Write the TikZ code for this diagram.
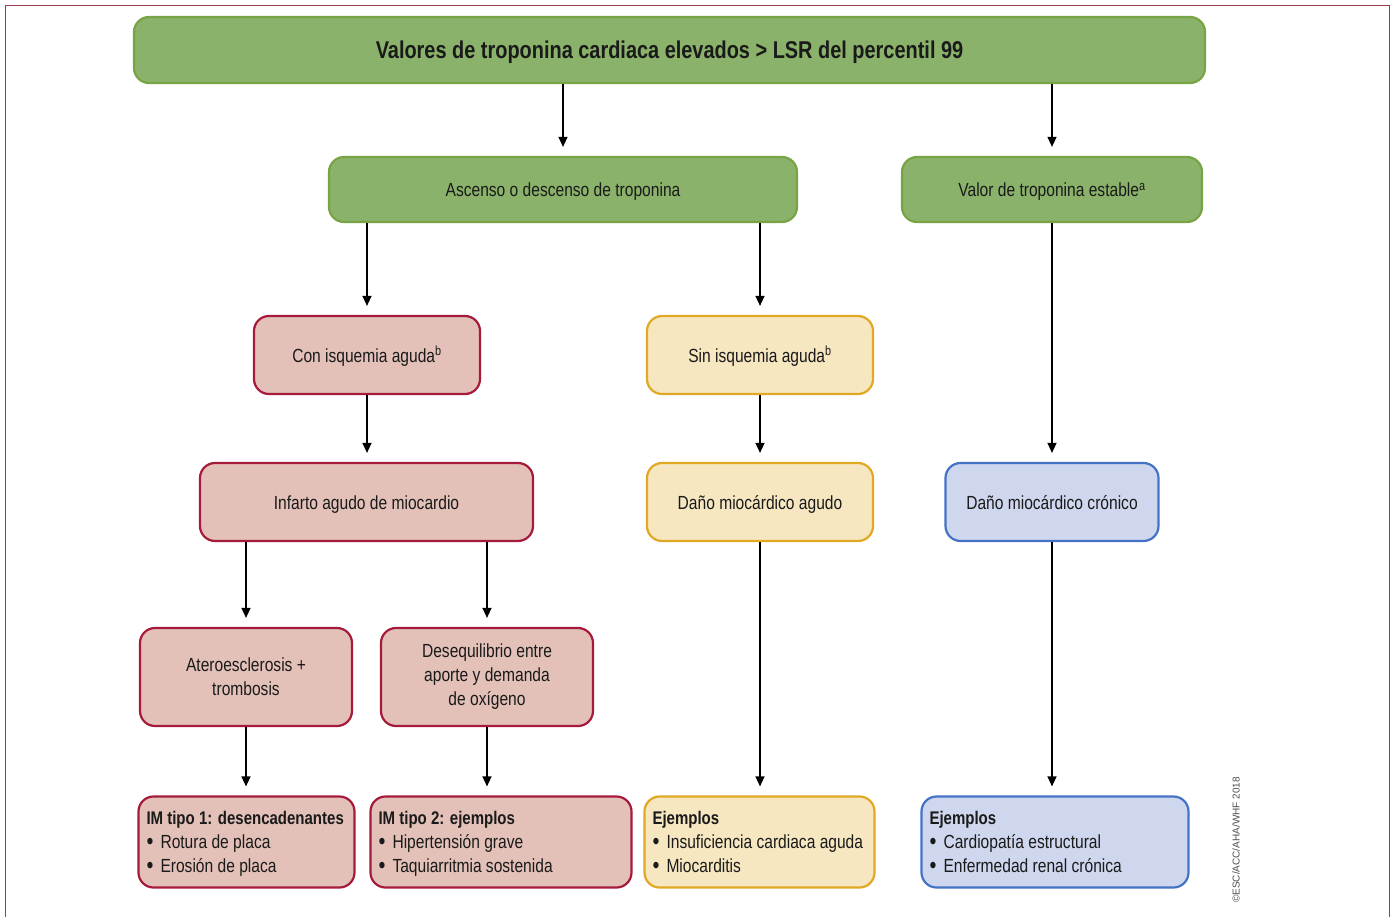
\documentclass[tikz,border=0pt]{standalone}
\usepackage{fontspec}
\setmainfont{Liberation Sans}[FakeStretch=0.82]
\newfontfamily\plainsans{Liberation Sans}
\usetikzlibrary{arrows.meta}

\definecolor{grfill}{HTML}{8BB26A}
\definecolor{grline}{HTML}{78A445}
\definecolor{rdfill}{HTML}{E3C1B8}
\definecolor{rdline}{HTML}{A61A3C}
\definecolor{ylfill}{HTML}{F6E7C1}
\definecolor{ylline}{HTML}{E1A823}
\definecolor{blfill}{HTML}{CFD7EF}
\definecolor{blline}{HTML}{4472C4}
\definecolor{frameline}{HTML}{9B3B4B}
\definecolor{ink}{HTML}{1A1A1A}

% list heading (with a fixed top strut), list item marker, fixed bottom strut
\newcommand{\listhead}[1]{\rule{0pt}{17pt}{\fontsize{18.3}{24}\selectfont\bfseries #1}}
\newcommand{\itemdot}{\makebox[14pt][l]{\raisebox{-1.2pt}{\fontsize{24}{24}\selectfont\textbullet}}}
\newcommand{\laststrut}{\rule[-4pt]{0pt}{4pt}}

\tikzset{
  box/.style={rounded corners=15pt, line width=2.2pt, inner sep=8pt,
    text=ink, font=\fontsize{19}{24}\selectfont, align=center},
  greenbox/.style={box, fill=grfill, draw=grline},
  redbox/.style={box, fill=rdfill, draw=rdline},
  yellowbox/.style={box, fill=ylfill, draw=ylline},
  bluebox/.style={box, fill=blfill, draw=blline},
  sz/.style 2 args={minimum width=#1pt, minimum height=#2pt},
  oneline/.style={text height=14pt, text depth=0pt},
  listbox/.style={align=flush left, text width=#1pt-15pt},
  flow/.style={line width=1.3pt, -{Triangle[length=10pt,width=9pt]}, shorten >=9pt},
}

\begin{document}
\begin{tikzpicture}[x=1pt, y=-1pt]
\useasboundingbox (0,0) rectangle (1394,917);

% outer frame, open at the bottom
\draw[frameline, line width=1.5pt] (5.5,917) -- (5.5,5.5) -- (1389.5,5.5) -- (1389.5,917);

% header
\node[greenbox, sz={1071}{66}, text height=17.5pt, text depth=0pt,
      font=\fontsize{24.3}{28}\selectfont\bfseries] (top) at (669.5,50)
  {Valores de troponina cardiaca elevados > LSR del percentil 99};

% second row
\node[greenbox, oneline, sz={468}{65}] (asc) at (563,189.5) {Ascenso o descenso de troponina};
\node[greenbox, oneline, sz={300}{65}] (val) at (1052,189.5) {Valor de troponina estable\textsuperscript{a}};

% third row
\node[redbox, oneline, sz={226}{78}] (con) at (367,355) {Con isquemia aguda\textsuperscript{b}};
\node[yellowbox, oneline, sz={226}{78}] (sin) at (760,355) {Sin isquemia aguda\textsuperscript{b}};

% fourth row
\node[redbox, oneline, sz={333}{78}] (inf) at (366.5,502) {Infarto agudo de miocardio};
\node[yellowbox, oneline, sz={226}{78}] (dag) at (760,502) {Daño miocárdico agudo};
\node[bluebox, oneline, sz={213}{78}] (dcr) at (1052,502) {Daño miocárdico crónico};

% fifth row
\node[redbox, sz={212}{98}] (ate) at (246,677) {Ateroesclerosis +\\trombosis};
\node[redbox, sz={212}{98}] (des) at (487,677) {Desequilibrio entre\\aporte y demanda\\de oxígeno};

% bottom row: example lists
\node[redbox, sz={215}{91}, listbox=215] (ex1) at (246.5,842)
  {\listhead{IM tipo 1: desencadenantes}\\\itemdot Rotura de placa\\\itemdot Erosión de placa\laststrut};
\node[redbox, sz={260}{91}, listbox=260] (ex2) at (501,842)
  {\listhead{IM tipo 2: ejemplos}\\\itemdot Hipertensión grave\\\itemdot Taquiarritmia sostenida\laststrut};
\node[yellowbox, sz={229}{91}, listbox=229] (ex3) at (759.5,842)
  {\listhead{Ejemplos}\\\itemdot Insuficiencia cardiaca aguda\\\itemdot Miocarditis\laststrut};
\node[bluebox, sz={266}{91}, listbox=266] (ex4) at (1055,842)
  {\listhead{Ejemplos}\\\itemdot Cardiopatía estructural\\\itemdot Enfermedad renal crónica\laststrut};

% connectors
\draw[flow] (top.south -| asc.north) -- (asc.north);
\draw[flow] (top.south -| val.north) -- (val.north);
\draw[flow] (asc.south -| con.north) -- (con.north);
\draw[flow] (asc.south -| sin.north) -- (sin.north);
\draw[flow] (val.south) -- (val.south |- dcr.north);
\draw[flow] (con.south) -- (con.south |- inf.north);
\draw[flow] (sin.south) -- (dag.north);
\draw[flow] (inf.south -| ate.north) -- (ate.north);
\draw[flow] (inf.south -| des.north) -- (des.north);
\draw[flow] (ate.south) -- (ate.south |- ex1.north);
\draw[flow] (des.south) -- (des.south |- ex2.north);
\draw[flow] (dag.south) -- (dag.south |- ex3.north);
\draw[flow] (dcr.south) -- (dcr.south |- ex4.north);

% copyright line
\node[rotate=90, text=black!70, font=\plainsans\fontsize{10}{12}\selectfont] (copy) at (1236,840)
  {©ESC/ACC/AHA/WHF 2018};
\end{tikzpicture}
\end{document}
